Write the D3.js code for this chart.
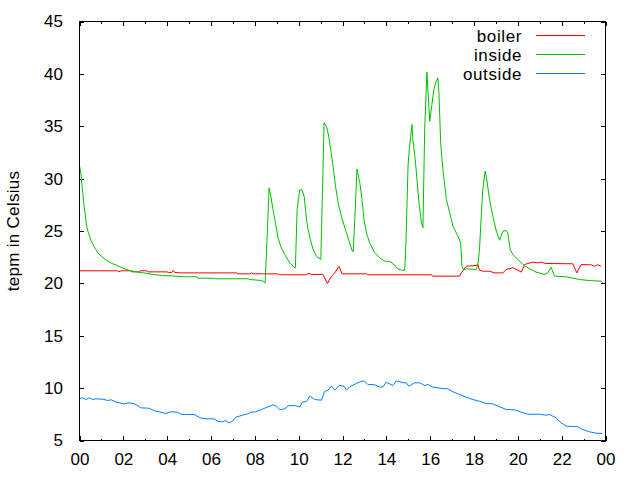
<!DOCTYPE html>
<html>
<head>
<meta charset="utf-8">
<script src="https://cdn.jsdelivr.net/npm/d3@7"></script>
<style>
  body { margin: 0; background: #fff; }
  text { font-family: "Liberation Sans", Arial, sans-serif; }
</style>
</head>
<body>
<div id="chart"></div>
<script>
// [hour of day, degrees C]
var boiler = [[0,21.2],[1.74,21.2],[1.8,21.1],[1.89,21.2],[2.35,21.2],[2.4,21.1],[2.7,21.1],[2.76,21.2],[3.08,21.2],[3.12,21.1],
  [3.99,21.1],[4.05,21.04],[4.22,21.04],[4.28,21.23],[4.35,21.04],[4.58,21.0],[7.18,21.0],[7.22,20.91],[7.77,20.91],[7.85,21.0],
  [7.91,20.91],[9.05,20.91],[9.14,20.82],[10.36,20.82],[10.41,20.97],[10.6,20.85],[11.11,20.85],[11.31,19.99],[11.5,20.69],[11.65,21.0],
  [11.84,21.64],[11.98,20.91],[13.1,20.91],[13.15,20.82],[16.07,20.82],[16.11,20.69],[17.34,20.69],[17.42,21.0],[17.65,21.64],[18.1,21.71],
  [18.18,21.8],[18.25,21.26],[18.4,21.16],[18.71,21.16],[18.94,21.0],[19.32,21.0],[19.47,21.32],[19.77,21.49],[20.0,21.26],[20.16,21.07],
  [20.31,21.8],[20.46,21.9],[20.68,22.02],[20.91,21.96],[21.07,22.02],[21.29,21.9],[22.51,21.87],[22.69,21.0],[22.89,21.8],[23.35,21.77],
  [23.5,21.64],[23.65,21.77],[23.8,21.64]];

var inside = [[0,31.25],[0.07,30.39],[0.11,29.44],[0.16,28.48],[0.2,27.53],[0.25,26.74],[0.3,25.94],[0.34,25.31],[0.43,24.67],[0.52,24.09],
  [0.62,23.71],[0.71,23.33],[0.84,22.92],[1.03,22.5],[1.25,22.18],[1.48,21.9],[1.71,21.71],[1.94,21.49],[2.27,21.23],[2.58,21.1],
  [3.03,20.97],[3.34,20.85],[3.79,20.75],[4.4,20.69],[4.85,20.63],[5.36,20.63],[5.4,20.49],[6.18,20.49],[6.22,20.44],[7.68,20.44],
  [7.77,20.37],[8.32,20.27],[8.47,20.05],[8.56,24.3],[8.65,29.12],[8.73,28.32],[8.83,27.05],[8.94,25.78],[9.06,24.35],[9.18,23.55],
  [9.36,22.76],[9.59,21.96],[9.79,21.54],[9.85,21.49],[9.93,27.05],[10.05,28.93],[10.15,28.93],[10.25,28.32],[10.31,27.05],[10.4,25.46],
  [10.51,24.35],[10.66,23.23],[10.81,22.59],[11.01,22.28],[11.09,29.0],[11.16,35.33],[11.27,35.0],[11.37,34.05],[11.46,32.78],[11.57,31.19],
  [11.68,29.28],[11.8,27.69],[11.95,26.41],[12.13,25.14],[12.3,24.03],[12.45,23.07],[12.49,23.04],[12.58,27.0],[12.66,30.92],[12.71,30.39],
  [12.79,29.6],[12.89,28.01],[12.98,26.1],[13.09,24.83],[13.24,23.87],[13.47,22.92],[13.7,22.44],[13.92,22.12],[14.15,22.09],[14.3,21.9],
  [14.53,21.39],[14.69,21.26],[14.84,21.26],[14.9,24.19],[14.99,31.19],[15.06,33.1],[15.17,35.17],[15.21,33.74],[15.32,31.83],[15.41,29.6],
  [15.49,27.69],[15.6,25.78],[15.67,25.31],[15.75,34.69],[15.85,40.16],[15.98,35.48],[16.07,36.91],[16.17,38.51],[16.25,39.15],[16.35,39.63],
  [16.4,38.19],[16.48,33.42],[16.58,30.87],[16.74,28.01],[16.89,26.74],[17.04,25.46],[17.27,24.5],[17.39,23.87],[17.45,21.64],[17.51,21.3],
  [17.65,21.39],[18.1,21.32],[18.18,21.8],[18.25,23.23],[18.33,26.41],[18.4,28.96],[18.51,30.71],[18.56,30.23],[18.71,28.01],[18.86,26.41],
  [19.02,24.98],[19.17,24.12],[19.32,24.98],[19.47,25.05],[19.54,24.83],[19.65,23.23],[19.77,22.76],[20.0,22.28],[20.23,21.8],[20.46,21.49],
  [20.84,21.07],[21.22,20.85],[21.37,21.01],[21.52,21.54],[21.67,20.69],[22.21,20.63],[22.81,20.37],[23.27,20.27],[23.8,20.21],[23.87,20.05]];

var outside = [[0,9.01],[0.15,9.08],[0.3,8.91],[0.45,9.08],[0.6,8.91],[0.75,8.98],[1.06,8.94],[1.29,8.82],[1.44,8.89],[1.66,8.69],
  [1.89,8.56],[2.04,8.5],[2.27,8.6],[2.5,8.5],[2.65,8.34],[2.8,8.12],[3.18,8.08],[3.41,7.84],[3.71,7.7],[3.94,7.58],
  [4.17,7.74],[4.48,7.7],[4.63,7.51],[4.85,7.48],[5.23,7.48],[5.31,7.39],[5.49,7.17],[5.77,7.07],[6.14,7.07],[6.3,6.84],
  [6.53,6.79],[6.65,6.91],[6.83,6.69],[6.98,6.84],[7.13,7.22],[7.44,7.42],[7.67,7.55],[7.82,7.7],[8.04,7.74],[8.3,7.96],
  [8.61,8.22],[8.83,8.41],[8.99,8.27],[9.14,7.93],[9.37,8.03],[9.52,8.31],[9.82,8.34],[10.05,8.22],[10.17,8.66],[10.36,8.72],
  [10.51,9.23],[10.73,8.91],[11.04,8.85],[11.19,9.71],[11.34,9.8],[11.5,10.18],[11.65,9.8],[11.84,10.25],[12.07,10.18],[12.18,9.8],
  [12.33,10.13],[12.63,10.44],[12.86,10.66],[13.01,10.66],[13.16,10.35],[13.47,10.32],[13.7,10.09],[13.85,10.13],[14.0,10.57],[14.3,10.25],
  [14.46,10.7],[14.76,10.51],[14.91,10.51],[15.03,10.18],[15.29,10.51],[15.52,10.51],[15.75,10.25],[15.9,10.35],[15.98,10.25],[16.13,10.09],
  [16.35,10.03],[16.58,9.96],[16.81,9.94],[17.04,9.65],[17.34,9.39],[17.65,9.13],[17.95,8.91],[18.25,8.75],[18.56,8.53],[18.86,8.5],
  [19.17,8.22],[19.47,7.96],[19.85,7.93],[20.16,7.7],[20.46,7.51],[20.99,7.51],[21.29,7.42],[21.45,7.48],[21.63,7.29],[21.75,7.17],
  [21.9,6.81],[22.21,6.37],[22.73,6.31],[22.96,6.05],[23.27,5.83],[23.57,5.7],[23.85,5.67]];

var seriesNames = ["boiler", "inside", "outside"];
var seriesColors = ["#ff0000", "#00c000", "#0080ff"];
var xTicks = d3.range(0, 25, 2);
var xMinorTicks = d3.range(1, 24, 2);
var yTicks = d3.range(5, 46, 5);
var yLabel = "tepm in Celsius";

var width = 640, height = 480;
var margin = {top: 21.5, right: 34.5, bottom: 39.5, left: 79.5};
var w = width - margin.left - margin.right;
var h = height - margin.top - margin.bottom;
var fontSize = 17;

var svg = d3.select("#chart").append("svg")
  .attr("width", width).attr("height", height)
  .style("display", "block");
svg.append("rect").attr("width", width).attr("height", height).attr("fill", "#fff");

var g = svg.append("g").attr("transform", "translate(" + margin.left + "," + margin.top + ")");

var x = d3.scaleLinear().domain([0, 24]).range([0, w]);
var y = d3.scaleLinear().domain([5, 45]).range([h, 0]);

function styleAxis(sel) {
  sel.select(".domain").remove();
  sel.selectAll("line").attr("stroke", "#000").attr("shape-rendering", "crispEdges");
  sel.selectAll("text").attr("fill", "#000")
    .style("font-family", '"Liberation Sans", Arial, sans-serif')
    .style("font-size", fontSize + "px");
}

// bottom + top ticks, inward
g.append("g").attr("transform", "translate(0," + h + ")")
  .call(d3.axisBottom(x).tickValues(xTicks).tickSize(-4.5).tickPadding(12.5)
    .tickFormat(function(d) { return d3.format("02d")(d % 24); }))
  .call(styleAxis);
g.append("g").attr("transform", "translate(0," + h + ")")
  .call(d3.axisBottom(x).tickValues(xMinorTicks).tickSize(-2).tickFormat(""))
  .call(styleAxis);
g.append("g")
  .call(d3.axisTop(x).tickValues(xTicks).tickSize(-4.5).tickFormat(""))
  .call(styleAxis);
g.append("g")
  .call(d3.axisTop(x).tickValues(xMinorTicks).tickSize(-2).tickFormat(""))
  .call(styleAxis);

// left + right
g.append("g")
  .call(d3.axisLeft(y).tickValues(yTicks).tickSize(-4.5).tickPadding(16.5))
  .call(styleAxis);
g.append("g").attr("transform", "translate(" + w + ",0)")
  .call(d3.axisRight(y).tickValues(yTicks).tickSize(-4.5).tickFormat(""))
  .call(styleAxis);

var line = d3.line()
  .x(function(d) { return x(d[0]); })
  .y(function(d) { return y(d[1]); });

var data = [boiler, inside, outside];
for (var i = 0; i < data.length; i++) {
  g.append("path")
    .datum(data[i])
    .attr("fill", "none")
    .attr("stroke", seriesColors[i])
    .attr("stroke-width", 1)
    .attr("d", line);
}

// frame
g.append("rect")
  .attr("width", w).attr("height", h)
  .attr("fill", "none").attr("stroke", "#000")
  .attr("shape-rendering", "crispEdges");

// legend (top right, gnuplot style)
var legend = svg.append("g");
for (var i = 0; i < seriesNames.length; i++) {
  var ly = 35.5 + i * 19;
  legend.append("text")
    .attr("x", 522).attr("y", ly + 6)
    .attr("text-anchor", "end")
    .style("font-size", fontSize + "px")
    .style("letter-spacing", "0.6px")
    .text(seriesNames[i]);
  legend.append("line")
    .attr("x1", 536).attr("x2", 585).attr("y1", ly).attr("y2", ly)
    .attr("stroke", seriesColors[i]).attr("shape-rendering", "crispEdges");
}

svg.append("text")
  .attr("transform", "translate(18.5," + (margin.top + h / 2) + ") rotate(-90)")
  .attr("text-anchor", "middle")
  .style("font-size", fontSize + "px")
  .style("letter-spacing", "0.3px")
  .text(yLabel);
</script>
</body>
</html>
